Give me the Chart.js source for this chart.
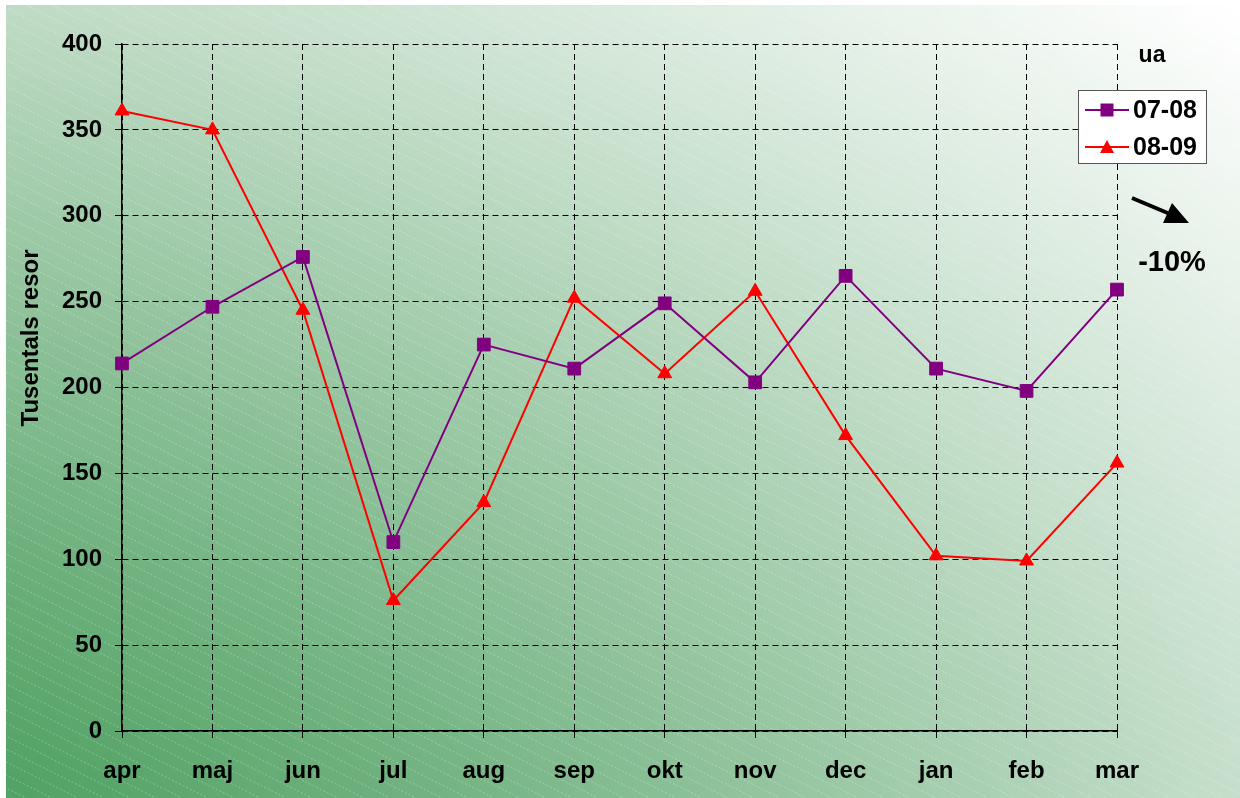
<!DOCTYPE html>
<html>
<head>
<meta charset="utf-8">
<title>Tusentals resor</title>
<script src="https://cdn.jsdelivr.net/npm/chart.js@4.4.1/dist/chart.umd.min.js"></script>
<style>
  body { margin: 0; background: #fff; }
  #myChart { display: block; }
</style>
</head>
<body>
<canvas id="myChart" width="1240" height="798"></canvas>
<script>
const months = ['apr', 'maj', 'jun', 'jul', 'aug', 'sep', 'okt', 'nov', 'dec', 'jan', 'feb', 'mar'];
const resor0708 = [214, 247, 276, 110, 225, 211, 249, 203, 265, 211, 198, 257];
const resor0809 = [361, 350, 245, 76, 133, 252, 208, 256, 172, 102, 99, 156];
const seriesLabels = ['07-08', '08-09'];
const yMin = 0;
const yMax = 400;
const yStep = 50;
const unitText = 'ua';
const changeText = '-10%';
const yTitle = 'Tusentals resor';

const fontFam = "'Liberation Sans', Arial, sans-serif";

// green gradient from the bottom-left corner + faint diagonal hatching
const backgroundPlugin = {
  id: 'bg',
  beforeDraw(chart) {
    const ctx = chart.ctx;
    const x0 = 6, y0 = 5, w = chart.width - x0, h = chart.height - y0;
    const tl = [191, 219, 197], tr = [255, 255, 255], bl = [84, 163, 102], br = [198, 223, 204];
    const gw = 64, gh = 42;
    const off = document.createElement('canvas');
    off.width = gw; off.height = gh;
    const octx = off.getContext('2d');
    const img = octx.createImageData(gw, gh);
    for (let j = 0; j < gh; j++) {
      for (let i = 0; i < gw; i++) {
        const u = Math.pow(i / (gw - 1), 1.2);
        const v = 1 - Math.pow(1 - j / (gh - 1), 1.2);
        for (let c = 0; c < 3; c++) {
          const top = tl[c] + (tr[c] - tl[c]) * u;
          const bot = bl[c] + (br[c] - bl[c]) * u;
          img.data[(j * gw + i) * 4 + c] = top + (bot - top) * v;
        }
        img.data[(j * gw + i) * 4 + 3] = 255;
      }
    }
    octx.putImageData(img, 0, 0);
    ctx.save();
    ctx.imageSmoothingEnabled = true;
    ctx.drawImage(off, x0, y0, w, h);
    ctx.beginPath();
    ctx.rect(x0, y0, w, h);
    ctx.clip();
    ctx.strokeStyle = 'rgba(255,255,255,0.28)';
    ctx.lineWidth = 1;
    ctx.setLineDash([2, 2]);
    for (let k = -2 * chart.height; k < chart.width + 20; k += 26) {
      ctx.beginPath();
      ctx.moveTo(k, 0);
      ctx.lineTo(k + 2 * chart.height, chart.height);
      ctx.stroke();
    }
    ctx.restore();
  }
};

function drawMarker(ctx, style, x, y, color) {
  ctx.fillStyle = color;
  ctx.beginPath();
  if (style === 'rect') {
    ctx.rect(x - 6.5, y - 6.5, 13, 13);
  } else {
    ctx.moveTo(x, y - 7);
    ctx.lineTo(x + 7, y + 6);
    ctx.lineTo(x - 7, y + 6);
    ctx.closePath();
  }
  ctx.fill();
}

const overlayPlugin = {
  id: 'overlay',
  afterDraw(chart) {
    const ctx = chart.ctx;
    ctx.save();
    ctx.fillStyle = '#000';
    ctx.textAlign = 'center';
    ctx.textBaseline = 'middle';

    // y axis title
    ctx.save();
    ctx.translate(31, 338);
    ctx.rotate(-Math.PI / 2);
    ctx.font = 'bold 24px ' + fontFam;
    ctx.fillText(yTitle, 0, 0);
    ctx.restore();

    ctx.font = 'bold 23px ' + fontFam;
    ctx.fillText(unitText, 1152, 56);

    // arrow
    ctx.strokeStyle = '#000';
    ctx.lineWidth = 4;
    ctx.beginPath();
    ctx.moveTo(1132, 198);
    ctx.lineTo(1170, 214);
    ctx.stroke();
    ctx.beginPath();
    ctx.moveTo(1189, 223);
    ctx.lineTo(1163, 223);
    ctx.lineTo(1172, 203);
    ctx.closePath();
    ctx.fill();

    ctx.font = 'bold 29px ' + fontFam;
    ctx.fillText(changeText, 1172, 263);

    // legend
    ctx.fillStyle = '#fff';
    ctx.fillRect(1078, 90, 128, 73);
    ctx.strokeStyle = '#555';
    ctx.lineWidth = 1;
    ctx.strokeRect(1078.5, 90.5, 128, 73);
    const rows = [110, 147];
    chart.data.datasets.forEach((ds, i) => {
      const y = rows[i];
      ctx.strokeStyle = ds.borderColor;
      ctx.lineWidth = 2;
      ctx.beginPath();
      ctx.moveTo(1085, y);
      ctx.lineTo(1129, y);
      ctx.stroke();
      drawMarker(ctx, ds.pointStyle, 1107, y, ds.borderColor);
      ctx.fillStyle = '#000';
      ctx.textAlign = 'left';
      ctx.font = 'bold 25px ' + fontFam;
      ctx.fillText(ds.label, 1133, y + 1);
    });
    ctx.restore();
  }
};

const axisFont = { family: fontFam, size: 24, weight: 'bold' };

const data = {
  labels: months,
  datasets: [{
    label: seriesLabels[0],
    data: resor0708,
    borderColor: '#800080',
    backgroundColor: '#800080',
    borderWidth: 2,
    pointStyle: 'rect',
    pointRadius: 9,
    pointBorderWidth: 1,
    tension: 0,
    clip: false
  }, {
    label: seriesLabels[1],
    data: resor0809,
    borderColor: '#ff0000',
    backgroundColor: '#ff0000',
    borderWidth: 2,
    pointStyle: 'triangle',
    pointRadius: 8,
    pointBorderWidth: 1,
    tension: 0,
    clip: false
  }]
};

const config = {
  type: 'line',
  data: data,
  options: {
    responsive: false,
    animation: false,
    devicePixelRatio: 1,
    layout: { padding: { left: 0, top: 44, right: 123, bottom: 0 } },
    plugins: {
      legend: { display: false },
      tooltip: { enabled: false }
    },
    scales: {
      x: {
        offset: false,
        grid: { color: '#000', lineWidth: 1, tickLength: 7, tickColor: '#000' },
        border: { display: true, color: '#000', width: 1.5, dash: [6, 4] },
        ticks: { color: '#000', font: axisFont, padding: 19, maxRotation: 0, autoSkip: false },
        afterFit(scale) { scale.height = 67; }
      },
      y: {
        min: yMin,
        max: yMax,
        grid: { color: '#000', lineWidth: 1, tickLength: 7, tickColor: '#000' },
        border: { display: true, color: '#000', width: 1.5, dash: [6, 4] },
        ticks: { color: '#000', font: axisFont, stepSize: yStep, padding: 13 },
        afterFit(scale) { scale.width = 122; }
      }
    }
  },
  plugins: [backgroundPlugin, overlayPlugin]
};

const myChart = new Chart(document.getElementById('myChart'), config);
</script>
</body>
</html>
